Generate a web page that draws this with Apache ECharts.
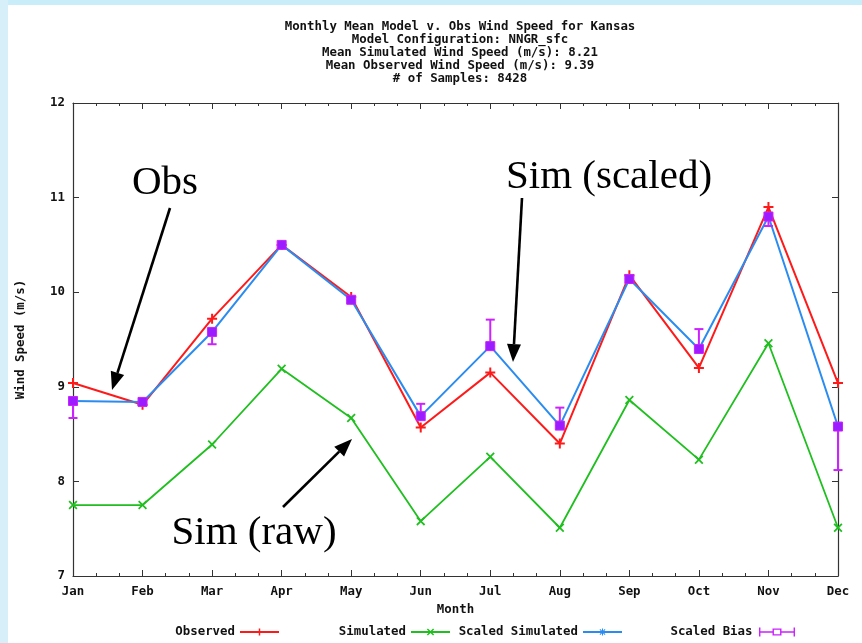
<!DOCTYPE html>
<html>
<head>
<meta charset="utf-8">
<script src="https://cdn.jsdelivr.net/npm/echarts@6/dist/echarts.min.js"></script>
<style>html,body{margin:0;padding:0;background:#fff}#c{width:862px;height:643px}</style>
</head>
<body>
<div id="c"></div>
<script>
const months = ['Jan','Feb','Mar','Apr','May','Jun','Jul','Aug','Sep','Oct','Nov','Dec'];
const observed  = [9.04, 8.81, 9.72, 10.50, 9.95, 8.57, 9.15, 8.40, 10.18, 9.20, 10.90, 9.04];
const simulated = [7.75, 7.75, 8.39, 9.19, 8.67, 7.58, 8.26, 7.51, 8.86, 8.23, 9.46, 7.51];
const scaledSim = [8.85, 8.84, 9.58, 10.50, 9.92, 8.69, 9.43, 8.59, 10.14, 9.40, 10.80, 8.58];
const biasEnd   = [8.67, 8.87, 9.45, 10.50, 9.89, 8.82, 9.71, 8.78, 10.10, 9.61, 10.70, 8.12];
const yTicks = [7, 8, 9, 10, 11, 12];
const titleLines = [
  'Monthly Mean Model v. Obs Wind Speed for Kansas',
  'Model Configuration: NNGR_sfc',
  'Mean Simulated Wind Speed (m/s): 8.21',
  'Mean Observed Wind Speed (m/s): 9.39',
  '# of Samples: 8428'
];
const annotations = [
  {text: 'Obs', x: 165, y: 183, from: [170, 208], to: [112, 390]},
  {text: 'Sim (scaled)', x: 609, y: 177, from: [522, 198], to: [513, 362]},
  {text: 'Sim (raw)', x: 254, y: 533, from: [283, 507], to: [352, 439]}
];

const MONO = 'DejaVu Sans Mono';
const RED = '#ff1a1a', GREEN = '#1fbf1f', BLUE = '#2a8cf0', PURPLE = '#9b1cff', MAGENTA = '#cc22ff';
const PLUS = 'path://M4,0H6V4H10V6H6V10H4V6H0V4H4Z';
const CROSS = 'path://M1.4,0L5,3.6L8.6,0L10,1.4L6.4,5L10,8.6L8.6,10L5,6.4L1.4,10L0,8.6L3.6,5L0,1.4Z';
const STAR = 'path://M4.3,0H5.7V3.3L8.1,0.9L9.1,1.9L6.7,4.3H10V5.7H6.7L9.1,8.1L8.1,9.1L5.7,6.7V10H4.3V6.7L1.9,9.1L0.9,8.1L3.3,5.7H0V4.3H3.3L0.9,1.9L1.9,0.9L4.3,3.3Z';
const BIASICON = 'path://M0,0H1.6V10H0Z M38.4,0H40V10H38.4Z M0,4.2H15V5.8H0Z M25,4.2H40V5.8H25Z M15,1H25V2.6H15Z M15,7.4H25V9H15Z M15,1H16.6V9H15Z M23.4,1H25V9H23.4Z';

function arrow(a) {
  const [x1, y1] = a.from, [x2, y2] = a.to;
  const dx = x2 - x1, dy = y2 - y1, L = Math.hypot(dx, dy);
  const ux = dx / L, uy = dy / L, hl = 18, hw = 7;
  const bx = x2 - ux * hl, by = y2 - uy * hl;
  return [
    {type: 'line', shape: {x1: x1, y1: y1, x2: bx, y2: by}, style: {stroke: '#000', lineWidth: 2.6}, z: 100},
    {type: 'polygon', shape: {points: [[x2, y2], [bx - uy * hw, by + ux * hw], [bx + uy * hw, by - ux * hw]]}, style: {fill: '#000'}, z: 100}
  ];
}

const graphics = [
  {type: 'rect', shape: {x: 0, y: 0, width: 862, height: 5}, style: {fill: '#c9edf9'}, z: -10},
  {type: 'rect', shape: {x: 0, y: 0, width: 8, height: 643}, style: {fill: '#d6eff8'}, z: -10}
];
annotations.forEach(a => {
  graphics.push({type: 'text', x: a.x, y: a.y, z: 100,
    style: {text: a.text, fontFamily: 'Liberation Serif', fontSize: 41, fill: '#000', textAlign: 'center', textVerticalAlign: 'middle'}});
  arrow(a).forEach(g => graphics.push(g));
});

const axisLineStyle = {color: '#333', width: 1.2};
const xBase = {
  type: 'value', min: 0, max: 11, interval: 1,
  axisLine: {show: true, onZero: false, lineStyle: axisLineStyle},
  axisTick: {show: true, inside: true, length: 6, lineStyle: {color: '#333'}},
  minorTick: {show: true, splitNumber: 3, length: 3, lineStyle: {color: '#333'}},
  splitLine: {show: false}, minorSplitLine: {show: false}
};
const yBase = {
  type: 'value', min: yTicks[0], max: yTicks[yTicks.length - 1], interval: 1,
  axisLine: {show: true, onZero: false, lineStyle: axisLineStyle},
  axisTick: {show: true, inside: true, length: 6, lineStyle: {color: '#333'}},
  splitLine: {show: false}
};
const textBold = {fontFamily: MONO, fontWeight: 'bold', fontSize: 12.4, color: '#111'};

const legendPos = [
  {name: 'Observed', right: 582},
  {name: 'Simulated', right: 411},
  {name: 'Scaled Simulated', right: 239},
  {name: 'Scaled Bias', right: 67, icon: BIASICON}
];

const option = {
  animation: false,
  backgroundColor: '#ffffff',
  textStyle: {fontFamily: MONO},
  title: {
    text: titleLines.join('\n'), left: 455, top: 15, textAlign: 'center',
    textStyle: Object.assign({}, textBold, {lineHeight: 13})
  },
  legend: legendPos.map(l => ({
    data: [l.icon ? {name: l.name, icon: l.icon} : l.name],
    right: l.right, top: 626, padding: 0, align: 'right',
    itemWidth: 39, itemHeight: 9, selectedMode: false,
    textStyle: textBold
  })),
  grid: {left: 73, right: 24, top: 103, bottom: 67},
  xAxis: [
    Object.assign({}, xBase, {
      position: 'bottom', name: 'Month', nameLocation: 'middle', nameGap: 28,
      nameTextStyle: textBold,
      axisLabel: Object.assign({}, textBold, {margin: 10, formatter: v => months[v] || ''})
    }),
    Object.assign({}, xBase, {position: 'top', axisLabel: {show: false}})
  ],
  yAxis: [
    Object.assign({}, yBase, {
      position: 'left', name: 'Wind Speed (m/s)', nameLocation: 'middle', nameGap: 46,
      nameTextStyle: textBold,
      axisLabel: Object.assign({}, textBold, {margin: 8})
    }),
    Object.assign({}, yBase, {position: 'right', axisLabel: {show: false}})
  ],
  graphic: graphics,
  series: [
    {name: 'Observed', type: 'line', data: observed.map((v, i) => [i, v]),
     symbol: PLUS, symbolSize: 10, lineStyle: {color: RED, width: 2}, itemStyle: {color: RED}, z: 2},
    {name: 'Simulated', type: 'line', data: simulated.map((v, i) => [i, v]),
     symbol: CROSS, symbolSize: 9, lineStyle: {color: GREEN, width: 1.8}, itemStyle: {color: GREEN}, z: 3},
    {name: 'Scaled Simulated', type: 'line', data: scaledSim.map((v, i) => [i, v]),
     symbol: STAR, symbolSize: 9, lineStyle: {color: BLUE, width: 2}, itemStyle: {color: BLUE}, z: 4},
    {name: 'Scaled Bias', type: 'custom', z: 5, itemStyle: {color: MAGENTA},
     data: scaledSim.map((v, i) => [i, v, biasEnd[i]]),
     renderItem: function (params, api) {
       const p0 = api.coord([api.value(0), api.value(1)]);
       const p1 = api.coord([api.value(0), api.value(2)]);
       const cw = 4.5, s = 4.5;
       return {type: 'group', children: [
         {type: 'line', shape: {x1: p0[0], y1: p0[1], x2: p1[0], y2: p1[1]}, style: {stroke: MAGENTA, lineWidth: 2}},
         {type: 'line', shape: {x1: p1[0] - cw, y1: p1[1], x2: p1[0] + cw, y2: p1[1]}, style: {stroke: MAGENTA, lineWidth: 2}},
         {type: 'rect', shape: {x: p0[0] - s, y: p0[1] - s, width: 2 * s, height: 2 * s}, style: {fill: PURPLE, stroke: MAGENTA, lineWidth: 1}}
       ]};
     }}
  ]
};

const chart = echarts.init(document.getElementById('c'), null, {renderer: 'canvas'});
chart.setOption(option);
</script>
</body>
</html>
